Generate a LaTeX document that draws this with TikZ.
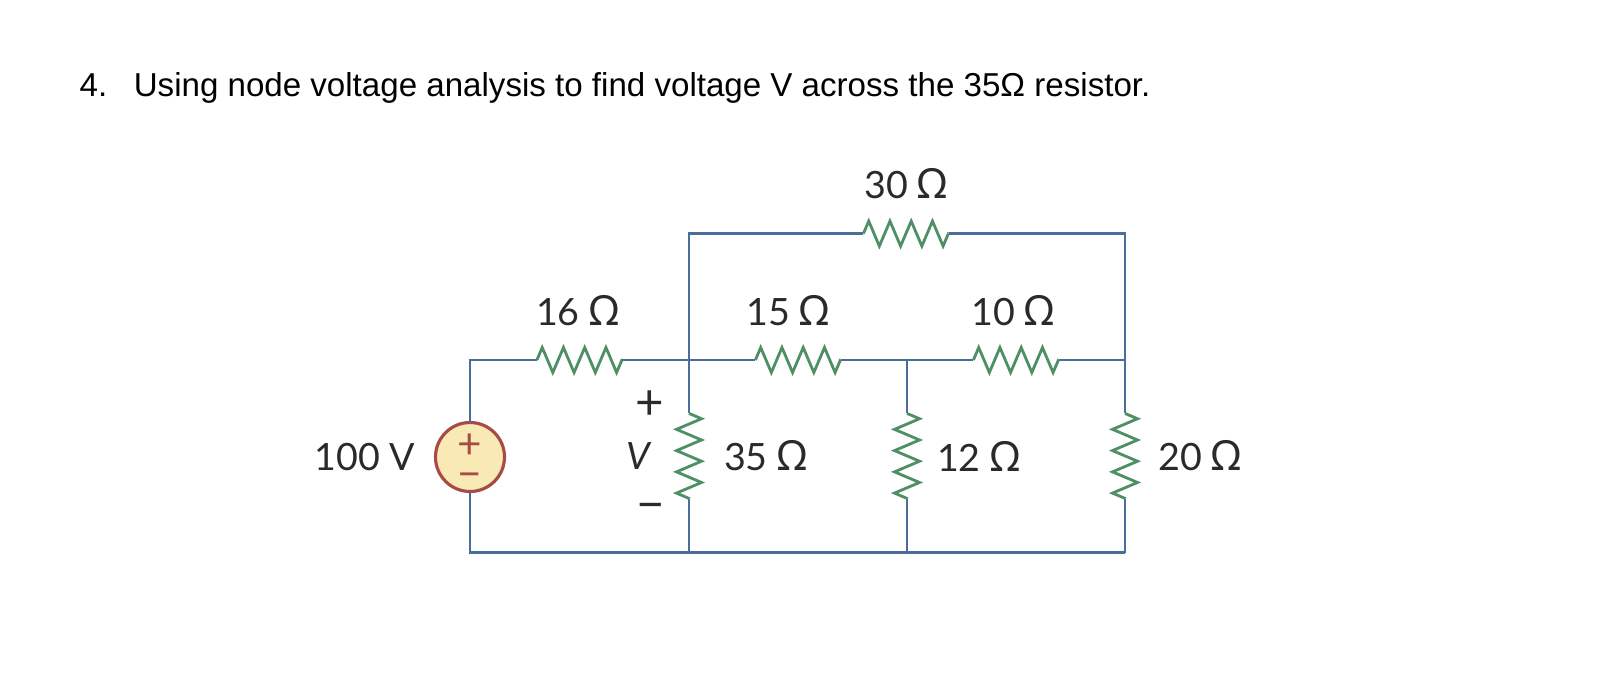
\documentclass[tikz,border=0pt]{standalone}
\usepackage{fontspec}
\setmainfont{Lato}
\newfontfamily\titlefont{Liberation Sans}
\newfontfamily\omegafont{Noto Sans}
\newcommand{\ohmsign}{{\omegafont\fontsize{11.8}{12}\selectfont Ω}}
\usetikzlibrary{shapes,positioning,decorations.pathmorphing}
\definecolor{wireblue}{HTML}{4A6D9C}
\definecolor{resgreen}{HTML}{4F8F66}
\definecolor{srcred}{HTML}{A84B47}
\definecolor{srcfill}{HTML}{F9E9B4}
\definecolor{inkdark}{HTML}{2A2A2A}

\begin{document}
\begin{tikzpicture}[hres/.style = {minimum width=.852cm, minimum height=.28cm, inner sep=0pt, outer sep=0pt}, vres/.style = {minimum width=.28cm, minimum height=.852cm, inner sep=0pt, outer sep=0pt}, source/.style = {circle, draw=srcred, fill=srcfill, line width=.9pt, minimum size=.69cm, inner sep=0pt, outer sep=0pt}, wire/.style = {draw=wireblue, line width=.75pt}, zig/.style = {draw=resgreen, line width=.8pt, decorate, decoration={zigzag, segment length=.2125cm, amplitude=.125cm}}, value/.style = {text=inkdark, font=\fontsize{10.7}{12}\selectfont, inner sep=0pt}, bigsign/.style = {text=inkdark, font=\fontsize{14}{14}\selectfont, inner sep=0pt}, sign/.style = {text=srcred, font=\fontsize{12}{12}\selectfont, inner sep=0pt}, node distance = 2.18cm]
	\useasboundingbox (0,0) rectangle (16.14,-6.72);
	\node[anchor=west, inner sep=0pt, text=black, font=\titlefont\fontsize{9.42}{12}\selectfont] (title) at (.79,-.88) {4.\hspace{.8em}Using node voltage analysis to find voltage V across the 35Ω resistor.};

	\node[source] (src) at (4.70,-4.57) {};
	\node[sign,above of=src,node distance=.11cm] (plus) {+};
	\node[sign,below of=src,node distance=.24cm] (minus) {\textminus};
	\coordinate (nA) at (6.89,-3.60);
	\coordinate[right of=nA] (nB);
	\coordinate[right of=nB] (nC);
	\coordinate[above of=nA,node distance=1.264cm] (tA);
	\coordinate[below of=nA,node distance=1.926cm] (bA);
	\coordinate[below of=nB,node distance=1.926cm] (bB);
	\coordinate[below of=nC,node distance=1.926cm] (bC);

	\node[hres,left of=nA,node distance=1.095cm] (r16) {};
	\node[hres,right of=nA,node distance=1.09cm] (r15) {};
	\node[hres,right of=nB,node distance=1.09cm] (r10) {};
	\node[hres,right of=tA,node distance=2.17cm] (r30) {};
	\node[vres,below of=nA,node distance=.96cm] (r35) {};
	\node[vres,below of=nB,node distance=.96cm] (r12) {};
	\node[vres,below of=nC,node distance=.96cm] (r20) {};

	\node[value,left of=src,node distance=1.05cm] (v100) {100 V};
	\node[value,above of=r16,node distance=.49cm,xshift=-.02cm] (l16) {16 \ohmsign};
	\node[value,above of=r15,node distance=.49cm,xshift=-.1cm] (l15) {15 \ohmsign};
	\node[value,above of=r10,node distance=.49cm,xshift=-.03cm] (l10) {10 \ohmsign};
	\node[value,above of=r30,node distance=.5cm] (l30) {30 \ohmsign};
	\node[value,right of=r35,node distance=.765cm] (l35) {35 \ohmsign};
	\node[value,right of=r12,node distance=.715cm] (l12) {12 \ohmsign};
	\node[value,right of=r20,node distance=.75cm] (l20) {20 \ohmsign};
	\node[value,left of=r35,node distance=.51cm,font=\fontsize{10.7}{12}\selectfont\itshape] (lV) {V};
	\node[bigsign,above of=lV,node distance=.51cm,xshift=.12cm] (lplus) {+};
	\node[bigsign,below of=lV,node distance=.56cm,xshift=.13cm] (lminus) {\textminus};

	\path[wire] (src) |- (r16);
	\path[wire] (r16) -- (nA);
	\path[wire] (nA) -- (r15);
	\path[wire] (r15) -- (nB);
	\path[wire] (nB) -- (r10);
	\path[wire] (r10) -- (nC);
	\path[wire] (nA) |- (r30);
	\path[wire] (r30) -| (nC);
	\path[wire] (nA) -- (r35);
	\path[wire] (nB) -- (r12);
	\path[wire] (nC) -- (r20);
	\path[wire] (r35) -- (bA);
	\path[wire] (r12) -- (bB);
	\path[wire] (r20) -- (bC);
	\path[wire] (src) |- (bA);
	\path[wire] (bA) -- (bB);
	\path[wire] (bB) -- (bC);

	\path[zig] (r16.west) -- (r16.east);
	\path[zig] (r15.west) -- (r15.east);
	\path[zig] (r10.west) -- (r10.east);
	\path[zig] (r30.west) -- (r30.east);
	\path[zig] (r35.north) -- (r35.south);
	\path[zig] (r12.north) -- (r12.south);
	\path[zig] (r20.north) -- (r20.south);
\end{tikzpicture}
\end{document}
